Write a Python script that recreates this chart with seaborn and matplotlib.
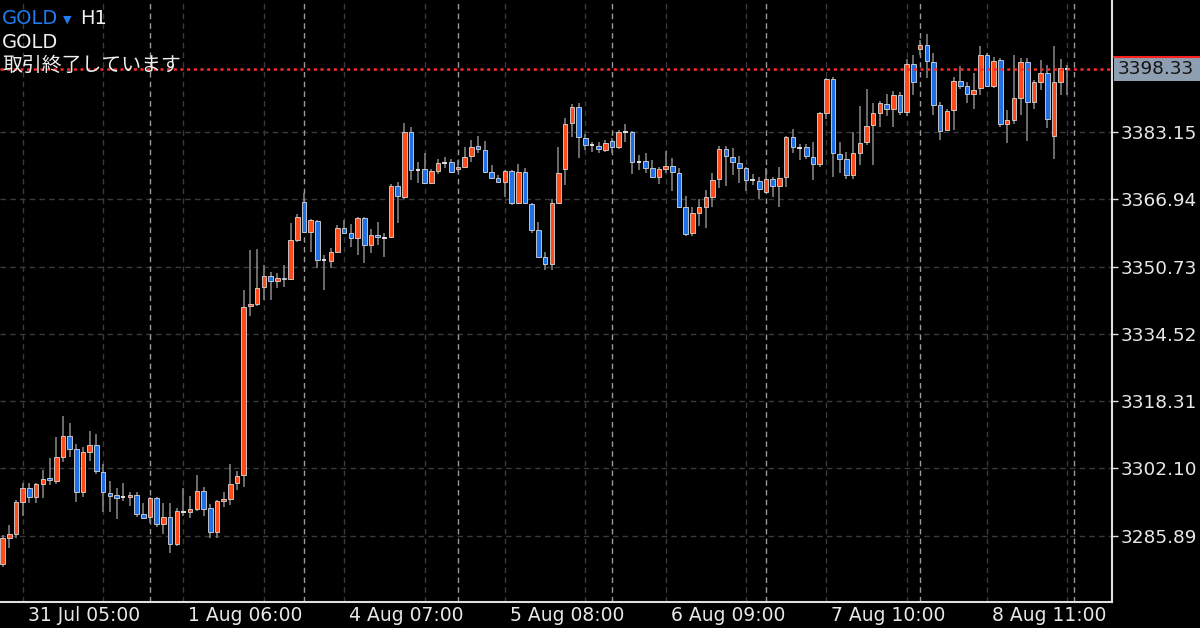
import matplotlib
matplotlib.use("Agg")
import matplotlib.pyplot as plt
import matplotlib.transforms as mtrans
from matplotlib.patches import Rectangle
import numpy as np
import pandas as pd
import seaborn as sns

# GOLD H1 candles, 31 Jul 02:00 -> 8 Aug 23:00
opens = [3279.0, 3285.4, 3286.4, 3294.0, 3297.4, 3295.2, 3298.3, 3299.8, 3299.0, 3304.8,
         3309.9, 3306.8, 3296.4, 3306.0, 3307.7, 3301.2, 3296.2, 3295.7, 3295.2, 3295.2,
         3295.7, 3291.1, 3290.4, 3295.0, 3288.7, 3290.4, 3283.9, 3291.6, 3291.6, 3292.3,
         3296.6, 3292.5, 3286.8, 3294.3, 3294.7, 3298.6, 3300.5, 3341.2, 3341.7, 3345.8,
         3348.5, 3347.2, 3348.0, 3347.7, 3357.1, 3366.3, 3359.0, 3361.7, 3352.3, 3352.0,
         3354.2, 3360.0, 3358.8, 3357.6, 3362.4, 3355.9, 3358.3, 3357.8, 3357.8, 3370.1,
         3367.5, 3383.15, 3374.0, 3374.2, 3370.9, 3373.8, 3375.7, 3375.9, 3374.2, 3374.7,
         3377.4, 3379.8, 3378.8, 3373.5, 3372.1, 3371.1, 3373.8, 3366.05, 3373.5, 3365.8,
         3359.5, 3353.0, 3351.3, 3366.05, 3374.2, 3385.3, 3389.2, 3381.7, 3380.0, 3379.8,
         3378.8, 3381.0, 3379.5, 3383.15, 3383.15, 3376.1, 3376.1, 3374.5, 3372.3, 3374.2,
         3374.95, 3373.3, 3365.1, 3358.8, 3363.6, 3365.1, 3367.5, 3371.8, 3379.0, 3377.1,
         3375.7, 3374.5, 3371.6, 3371.3, 3368.7, 3371.8, 3370.1, 3372.3, 3381.9, 3379.5,
         3379.5, 3377.1, 3375.4, 3387.7, 3395.9, 3377.8, 3376.6, 3372.8, 3378.1, 3380.7,
         3384.8, 3387.7, 3389.9, 3388.7, 3392.1, 3388.0, 3399.5, 3403.1, 3404.1, 3400.0,
         3389.7, 3383.6, 3388.5, 3395.4, 3394.2, 3392.3, 3393.75, 3401.7, 3394.2, 3400.5,
         3385.1, 3386.0, 3391.3, 3400.0, 3390.4, 3395.2, 3397.4, 3382.2, 3395.2, 3398.2]
highs = [3286.0, 3288.4, 3294.5, 3298.6, 3298.6, 3298.6, 3301.7, 3304.6, 3309.6, 3314.7,
         3313.0, 3308.0, 3307.2, 3311.0, 3310.4, 3303.2, 3299.0, 3297.4, 3298.6, 3296.4,
         3296.4, 3293.8, 3295.2, 3295.2, 3293.8, 3293.8, 3292.5, 3297.4, 3295.4, 3300.5,
         3297.6, 3293.5, 3294.5, 3296.4, 3303.2, 3301.4, 3345.0, 3354.7, 3355.0, 3351.0,
         3349.4, 3349.2, 3351.0, 3361.2, 3363.4, 3368.5, 3362.2, 3362.0, 3353.5, 3355.2,
         3360.7, 3362.0, 3361.0, 3362.7, 3362.7, 3359.8, 3361.5, 3358.8, 3370.6, 3371.1,
         3385.3, 3384.4, 3375.9, 3378.1, 3374.2, 3376.6, 3377.1, 3376.6, 3376.4, 3379.5,
         3381.2, 3382.2, 3381.0, 3375.2, 3372.8, 3374.0, 3374.0, 3375.4, 3374.5, 3366.05,
         3361.5, 3354.2, 3367.0, 3379.5, 3386.5, 3389.9, 3390.1, 3382.7, 3380.7, 3380.7,
         3381.2, 3381.7, 3383.6, 3385.1, 3383.4, 3377.6, 3378.1, 3376.4, 3374.7, 3378.6,
         3376.9, 3374.5, 3367.7, 3365.1, 3367.0, 3369.2, 3373.3, 3379.8, 3379.8, 3379.3,
         3377.4, 3374.7, 3373.0, 3372.3, 3374.5, 3372.3, 3374.7, 3382.2, 3383.9, 3380.3,
         3380.3, 3380.7, 3388.0, 3396.2, 3396.4, 3380.7, 3378.3, 3383.15, 3389.4, 3393.5,
         3390.1, 3390.6, 3392.3, 3393.0, 3392.8, 3400.7, 3401.7, 3405.3, 3406.8, 3402.2,
         3390.4, 3388.7, 3396.4, 3399.0, 3395.2, 3397.4, 3403.9, 3402.2, 3401.2, 3401.0,
         3388.5, 3401.7, 3401.0, 3401.0, 3395.7, 3400.5, 3399.3, 3403.9, 3400.7, 3399.3]
lows = [3278.3, 3283.0, 3285.3, 3290.6, 3293.8, 3293.8, 3295.0, 3298.1, 3298.3, 3303.6,
        3304.8, 3294.0, 3295.2, 3303.9, 3300.7, 3291.6, 3291.6, 3290.0, 3294.2, 3293.0,
        3290.4, 3290.0, 3289.0, 3288.0, 3286.4, 3281.7, 3283.4, 3290.6, 3290.2, 3291.8,
        3290.6, 3285.3, 3285.3, 3292.8, 3293.3, 3296.9, 3297.6, 3338.8, 3341.2, 3342.7,
        3342.7, 3345.6, 3345.8, 3347.5, 3356.6, 3358.8, 3354.2, 3350.4, 3345.1, 3350.4,
        3354.0, 3358.6, 3355.4, 3353.5, 3351.6, 3354.0, 3355.9, 3353.0, 3357.6, 3361.2,
        3367.0, 3371.6, 3370.9, 3370.6, 3370.6, 3373.0, 3374.5, 3373.3, 3373.5, 3374.7,
        3375.9, 3378.1, 3373.3, 3371.8, 3370.9, 3367.5, 3365.6, 3365.8, 3365.8, 3358.8,
        3352.8, 3349.9, 3349.9, 3365.8, 3370.4, 3381.9, 3376.9, 3378.8, 3378.3, 3378.1,
        3378.3, 3378.1, 3379.0, 3380.7, 3373.0, 3374.0, 3373.3, 3372.1, 3370.6, 3373.3,
        3368.9, 3364.8, 3358.1, 3358.1, 3360.5, 3360.0, 3365.1, 3369.7, 3370.1, 3372.8,
        3370.9, 3368.9, 3370.4, 3367.0, 3368.5, 3367.5, 3365.1, 3369.9, 3378.1, 3376.4,
        3376.6, 3371.6, 3374.7, 3386.3, 3372.3, 3373.3, 3371.8, 3371.8, 3375.2, 3380.0,
        3375.2, 3384.4, 3387.0, 3384.4, 3387.2, 3387.0, 3392.1, 3401.7, 3396.2, 3387.2,
        3381.2, 3383.4, 3383.6, 3393.5, 3390.1, 3388.7, 3392.1, 3394.0, 3393.75, 3384.4,
        3380.5, 3385.1, 3387.2, 3381.0, 3388.7, 3393.3, 3384.1, 3376.6, 3392.1, 3392.1]
closes = [3285.4, 3286.4, 3294.0, 3297.4, 3295.2, 3298.3, 3299.5, 3299.3, 3304.8, 3309.9,
          3306.8, 3296.4, 3306.0, 3307.7, 3301.4, 3296.4, 3295.4, 3295.0, 3295.2, 3295.7,
          3291.1, 3290.2, 3295.0, 3288.7, 3290.4, 3283.9, 3291.8, 3291.5, 3292.3, 3296.6,
          3292.3, 3286.8, 3294.2, 3294.6, 3298.3, 3300.2, 3341.0, 3341.7, 3345.6, 3348.5,
          3347.2, 3348.0, 3347.7, 3357.1, 3362.7, 3359.0, 3361.9, 3352.3, 3352.2, 3354.2,
          3360.0, 3358.8, 3357.6, 3362.4, 3355.9, 3358.3, 3357.8, 3357.7, 3370.1, 3367.7,
          3383.15, 3374.0, 3373.9, 3370.9, 3373.8, 3375.7, 3375.8, 3373.5, 3374.7, 3377.1,
          3379.5, 3379.05, 3373.5, 3372.1, 3371.1, 3373.8, 3366.05, 3373.5, 3366.05, 3359.5,
          3353.0, 3351.3, 3366.05, 3373.3, 3385.1, 3389.2, 3381.9, 3380.0, 3379.9, 3379.0,
          3380.5, 3379.5, 3383.15, 3383.2, 3375.9, 3376.0, 3374.5, 3372.3, 3374.2, 3374.95,
          3373.5, 3365.1, 3358.6, 3363.6, 3365.1, 3367.5, 3371.6, 3379.0, 3377.4, 3375.9,
          3374.5, 3371.6, 3371.5, 3369.4, 3371.8, 3370.1, 3372.1, 3381.9, 3379.5, 3379.4,
          3377.4, 3375.4, 3387.7, 3395.9, 3378.1, 3376.6, 3372.8, 3378.1, 3380.5, 3384.6,
          3387.7, 3390.1, 3388.7, 3392.1, 3388.0, 3399.5, 3395.2, 3404.1, 3400.3, 3389.7,
          3383.4, 3388.2, 3395.4, 3394.2, 3392.3, 3393.3, 3401.7, 3394.2, 3400.3, 3385.1,
          3386.0, 3391.3, 3400.0, 3390.4, 3395.2, 3397.4, 3386.3, 3395.2, 3398.6, 3398.33]

price_ticks = [3285.89, 3302.10, 3318.31, 3334.52, 3350.73, 3366.94, 3383.15]
time_labels = ["31 Jul 05:00", "1 Aug 06:00", "4 Aug 07:00", "5 Aug 08:00",
               "6 Aug 09:00", "7 Aug 10:00", "8 Aug 11:00"]
label_bars = [3, 27, 51, 75, 99, 123, 147]      # bar index of each time label
day_starts = [22, 45, 68, 91, 114, 137, 160]     # period separators (01:00 bars)
last_price = 3398.33

df = pd.DataFrame({"open": opens, "high": highs, "low": lows, "close": closes})
df["bar"] = np.arange(len(df))

sns.set_theme(style="dark", rc={"axes.facecolor": "black", "figure.facecolor": "black",
                               "lines.scale_dashes": False})
plt.rcParams["font.family"] = ["DejaVu Sans", "Noto Sans CJK JP"]

W, H = 1200, 628
fig = plt.figure(figsize=(12, 6.28), dpi=100)
ax = fig.add_axes([0, 26 / H, 1112 / W, 602 / H])
ax.set_facecolor("black")

# grid
for p in price_ticks:
    ax.axhline(p, color="#3a3a3a", lw=1, dashes=(4, 3), zorder=0)
for b in range(3, 160, 12):
    ax.axvline(b, color="#3a3a3a", lw=1, dashes=(4, 3), zorder=0)
for b in day_starts:
    ax.axvline(b, color="#9a9a9a", lw=1, dashes=(4, 3), zorder=0)

# candles
up_col, dn_col = "#ff4a1c", "#1f6fe6"
ax.vlines(df["bar"], df["low"], df["high"], color="#8a8a8a", lw=1.1, zorder=2)
diff = df["close"] - df["open"]
doji = diff.abs() < 0.15
body = df[~doji]
cols = np.where(body["close"] > body["open"], up_col, dn_col)
ax.bar(body["bar"], (body["close"] - body["open"]).abs(),
       bottom=body[["open", "close"]].min(axis=1), width=0.68,
       color=cols, edgecolor="#d9d9d9", linewidth=0.6, zorder=3)
dj = df[doji]
ax.hlines(dj["close"], dj["bar"] - 0.34, dj["bar"] + 0.34, color="#f0f0f0", lw=1.3, zorder=3)

# last price line
ax.axhline(last_price, color="#ff2b2b", lw=1.8, dashes=(2.2, 2.6), zorder=4)

ax.set_xlim(-0.4, 165.66)
ax.set_ylim(3269.9, 3414.96)

# axes look
for s in ["top", "left"]:
    ax.spines[s].set_visible(False)
for s in ["right", "bottom"]:
    ax.spines[s].set_visible(True)
    ax.spines[s].set_color("#e0e0e0")
    ax.spines[s].set_linewidth(1.5)

ax.yaxis.tick_right()
ax.set_yticks(price_ticks)
ax.set_yticklabels([f"{p:.2f}" for p in price_ticks])
ax.tick_params(axis="y", colors="#e0e0e0", labelcolor="#e8e8e8", length=4, width=1,
               direction="out", labelsize=13.3, pad=2)

ax.set_xticks(label_bars)
ax.set_xticklabels(time_labels, ha="left")
ax.set_xticks(sorted(set(range(3, 160, 12)) | set(day_starts)), minor=True)
ax.tick_params(axis="x", which="major", colors="#e0e0e0", labelcolor="#e8e8e8", length=4,
               width=1, direction="out", labelsize=13.5, pad=-1)
ax.tick_params(axis="x", which="minor", colors="#bbbbbb", length=5, width=1, direction="in")
offset = mtrans.ScaledTranslation(5 / 100, 0, fig.dpi_scale_trans)
for lab in ax.get_xticklabels():
    lab.set_transform(lab.get_transform() + offset)
ax.grid(False)

# last price box on the right axis
ly = ax.transData.transform((0, last_price))[1]
fig.patches.append(Rectangle((1114 / W, (ly - 12) / H), 86 / W, 24 / H,
                             transform=fig.transFigure, facecolor="#8e9fb2",
                             edgecolor="none", zorder=5))
fig.lines.append(plt.Line2D([1114 / W, 1], [(ly + 12) / H] * 2, transform=fig.transFigure,
                            color="#ff2020", lw=1.5, zorder=6))
fig.text(1118 / W, ly / H, f"{last_price:.2f}", color="#141414", fontsize=13.3,
         va="center", ha="left", zorder=7)

# header text
fig.text(2 / W, 1 - 19 / H, "GOLD", color="#1f7cf2", fontsize=14, va="center", ha="left")
fig.text(63 / W, 1 - 20 / H, "▼", color="#1f7cf2", fontsize=8, va="center", ha="left")
fig.text(80 / W, 1 - 19 / H, "H1", color="#f0f0f0", fontsize=14, va="center", ha="left")
fig.text(2 / W, 1 - 43 / H, "GOLD", color="#f0f0f0", fontsize=14, va="center", ha="left")
fig.text(2 / W, 1 - 65 / H, "取引終了しています", color="#f0f0f0", fontsize=14.3,
         va="center", ha="left", family=["Noto Sans CJK JP", "DejaVu Sans"])

fig.savefig("out.png", dpi=100, facecolor="black")
